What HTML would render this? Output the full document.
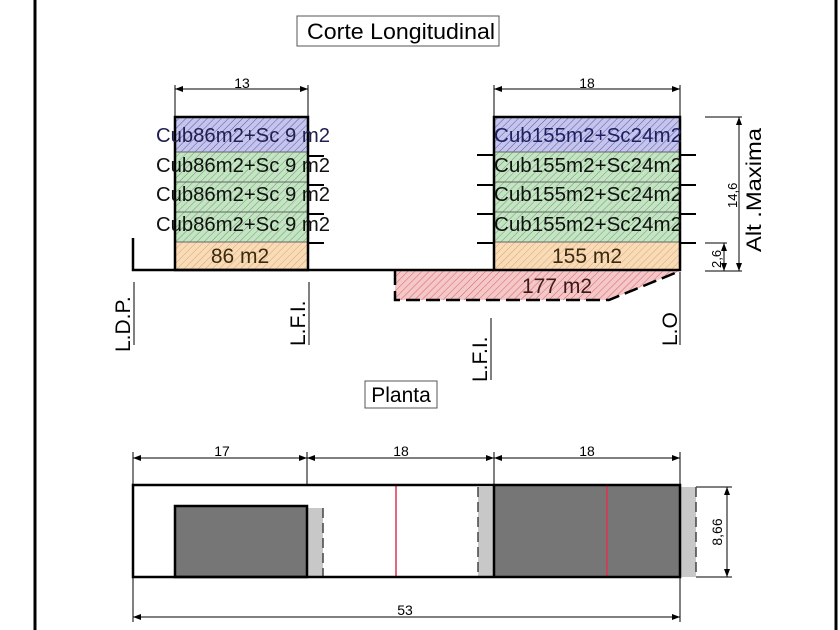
<!DOCTYPE html>
<html><head><meta charset="utf-8"><style>
html,body{margin:0;padding:0;background:#fff}
svg{display:block}
text{font-family:"Liberation Sans",sans-serif}
</style></head><body>
<svg width="840" height="630" viewBox="0 0 840 630" xmlns="http://www.w3.org/2000/svg">
<defs>
<pattern id="hb" width="5" height="5" patternUnits="userSpaceOnUse" patternTransform="rotate(45)"><rect width="5" height="5" fill="#c4c4ec"/><line x1="0" y1="0" x2="0" y2="5" stroke="#5858a8" stroke-width="1"/></pattern>
<pattern id="hg" width="5" height="5" patternUnits="userSpaceOnUse" patternTransform="rotate(45)"><rect width="5" height="5" fill="#c4e4c4"/><line x1="0" y1="0" x2="0" y2="5" stroke="#68a068" stroke-width="1"/></pattern>
<pattern id="ho" width="5" height="5" patternUnits="userSpaceOnUse" patternTransform="rotate(45)"><rect width="5" height="5" fill="#f8dcb8"/><line x1="0" y1="0" x2="0" y2="5" stroke="#e0a070" stroke-width="1"/></pattern>
<pattern id="hr" width="5" height="5" patternUnits="userSpaceOnUse" patternTransform="rotate(45)"><rect width="5" height="5" fill="#f4c8c8"/><line x1="0" y1="0" x2="0" y2="5" stroke="#d86060" stroke-width="1"/></pattern>
<marker id="ar" markerWidth="8" markerHeight="6" refX="8" refY="3" orient="auto-start-reverse" markerUnits="userSpaceOnUse"><path d="M0,0 L8,3 L0,6z" fill="#000"/></marker>
</defs>
<line x1="35" y1="0" x2="35" y2="630" stroke="#000" stroke-width="3"/>
<line x1="836" y1="0" x2="836" y2="630" stroke="#000" stroke-width="3"/>

<rect x="297" y="16" width="202" height="30" fill="#fff" stroke="#555"/>
<text x="307" y="39" font-size="22" textLength="188" lengthAdjust="spacingAndGlyphs">Corte Longitudinal</text>

<g stroke="#000" stroke-width="1" fill="none">
<line x1="175" y1="85" x2="175" y2="117"/><line x1="308" y1="85" x2="308" y2="117"/>
<line x1="175" y1="89" x2="308" y2="89" marker-start="url(#ar)" marker-end="url(#ar)"/>
<line x1="494" y1="85" x2="494" y2="117"/><line x1="680" y1="85" x2="680" y2="117"/>
<line x1="494" y1="89" x2="680" y2="89" marker-start="url(#ar)" marker-end="url(#ar)"/>
</g>
<text x="242" y="88" font-size="14" text-anchor="middle">13</text>
<text x="587" y="88" font-size="14" text-anchor="middle">18</text>

<rect x="175" y="117" width="133" height="35" fill="url(#hb)"/>
<rect x="175" y="152" width="133" height="30" fill="url(#hg)"/>
<rect x="175" y="182" width="133" height="30" fill="url(#hg)"/>
<rect x="175" y="212" width="133" height="30" fill="url(#hg)"/>
<rect x="175" y="242" width="133" height="28" fill="url(#ho)"/>
<g stroke="#666" stroke-width="1"><line x1="175" y1="152" x2="308" y2="152"/><line x1="175" y1="182" x2="308" y2="182"/><line x1="175" y1="212" x2="308" y2="212"/><line x1="175" y1="242" x2="308" y2="242"/></g>
<rect x="175" y="117" width="133" height="153" fill="none" stroke="#000" stroke-width="2.5"/>
<g stroke="#000" stroke-width="2"><line x1="308" y1="156" x2="324" y2="156"/><line x1="308" y1="185" x2="324" y2="185"/><line x1="308" y1="214" x2="324" y2="214"/><line x1="308" y1="243" x2="324" y2="243"/></g>
<g font-size="20" fill="#111">
<text x="156" y="142" textLength="174" lengthAdjust="spacingAndGlyphs" fill="#202050">Cub86m2+Sc 9 m2</text>
<text x="156" y="172" textLength="174" lengthAdjust="spacingAndGlyphs">Cub86m2+Sc 9 m2</text>
<text x="156" y="201" textLength="174" lengthAdjust="spacingAndGlyphs">Cub86m2+Sc 9 m2</text>
<text x="156" y="231" textLength="174" lengthAdjust="spacingAndGlyphs">Cub86m2+Sc 9 m2</text>
<text x="240" y="263" font-size="21" text-anchor="middle" fill="#3a2a10">86 m2</text>
</g>

<path d="M395,271 L395,300 L609,300 L680,271 Z" fill="url(#hr)"/>
<path d="M395,271 L395,300 L609,300 L680,271" fill="none" stroke="#000" stroke-width="2.5" stroke-dasharray="14,6"/>
<text x="557" y="293" font-size="21" text-anchor="middle" fill="#3a1a1a">177 m2</text>

<rect x="494" y="117" width="186" height="35" fill="url(#hb)"/>
<rect x="494" y="152" width="186" height="30" fill="url(#hg)"/>
<rect x="494" y="182" width="186" height="30" fill="url(#hg)"/>
<rect x="494" y="212" width="186" height="30" fill="url(#hg)"/>
<rect x="494" y="242" width="186" height="28" fill="url(#ho)"/>
<g stroke="#666" stroke-width="1"><line x1="494" y1="152" x2="680" y2="152"/><line x1="494" y1="182" x2="680" y2="182"/><line x1="494" y1="212" x2="680" y2="212"/><line x1="494" y1="242" x2="680" y2="242"/></g>
<rect x="494" y="117" width="186" height="153" fill="none" stroke="#000" stroke-width="2.5"/>
<g stroke="#000" stroke-width="2">
<line x1="477" y1="155" x2="494" y2="155"/><line x1="477" y1="185" x2="494" y2="185"/><line x1="477" y1="214" x2="494" y2="214"/><line x1="477" y1="243" x2="494" y2="243"/>
<line x1="680" y1="155" x2="696" y2="155"/><line x1="680" y1="185" x2="696" y2="185"/><line x1="680" y1="214" x2="696" y2="214"/><line x1="680" y1="243" x2="696" y2="243"/>
</g>
<g font-size="20" fill="#111">
<text x="494" y="142" textLength="188" lengthAdjust="spacingAndGlyphs" fill="#202060">Cub155m2+Sc24m2</text>
<text x="494" y="172" textLength="188" lengthAdjust="spacingAndGlyphs">Cub155m2+Sc24m2</text>
<text x="494" y="201" textLength="188" lengthAdjust="spacingAndGlyphs">Cub155m2+Sc24m2</text>
<text x="494" y="231" textLength="188" lengthAdjust="spacingAndGlyphs">Cub155m2+Sc24m2</text>
<text x="587" y="263" font-size="21" text-anchor="middle" fill="#3a2a10">155 m2</text>
</g>

<polyline points="133,238 133,270 494,270" stroke="#000" stroke-width="2.5" fill="none"/>
<g stroke="#000" stroke-width="1">
<line x1="134" y1="282" x2="134" y2="345"/>
<line x1="309" y1="282" x2="309" y2="345"/>
<line x1="491" y1="318" x2="491" y2="380"/>
<line x1="680" y1="272" x2="680" y2="345"/>
</g>
<g font-size="21">
<text transform="translate(130,352) rotate(-90)">L.D.P.</text>
<text transform="translate(305,346) rotate(-90)">L.F.I.</text>
<text transform="translate(487,382) rotate(-90)">L.F.I.</text>
<text transform="translate(677,346) rotate(-90)">L.O</text>
</g>

<g stroke="#000" stroke-width="1" fill="none">
<line x1="705" y1="117" x2="742" y2="117"/>
<line x1="705" y1="271" x2="742" y2="271"/>
<line x1="705" y1="243" x2="727" y2="243"/>
<line x1="739" y1="117" x2="739" y2="271" marker-start="url(#ar)" marker-end="url(#ar)"/>
<line x1="724" y1="243" x2="724" y2="271" marker-start="url(#ar)" marker-end="url(#ar)"/>
</g>
<text transform="translate(737,208) rotate(-90)" font-size="13">14,6</text>
<text transform="translate(721,268) rotate(-90)" font-size="13">2,6</text>
<text transform="translate(761,252) rotate(-90)" font-size="21" textLength="124" lengthAdjust="spacingAndGlyphs">Alt .Maxima</text>

<rect x="365" y="381" width="72" height="27" fill="#fff" stroke="#555"/>
<text x="401" y="402" font-size="21" text-anchor="middle">Planta</text>

<g stroke="#000" stroke-width="1" fill="none">
<line x1="133" y1="452" x2="133" y2="485"/><line x1="307" y1="452" x2="307" y2="485"/><line x1="494" y1="452" x2="494" y2="485"/><line x1="680" y1="452" x2="680" y2="485"/>
<line x1="133" y1="458" x2="307" y2="458" marker-start="url(#ar)" marker-end="url(#ar)"/>
<line x1="307" y1="458" x2="494" y2="458" marker-start="url(#ar)" marker-end="url(#ar)"/>
<line x1="494" y1="458" x2="680" y2="458" marker-start="url(#ar)" marker-end="url(#ar)"/>
<line x1="133" y1="577" x2="133" y2="622"/><line x1="680" y1="577" x2="680" y2="622"/>
<line x1="133" y1="617" x2="680" y2="617" marker-start="url(#ar)" marker-end="url(#ar)"/>
<line x1="696" y1="487" x2="732" y2="487"/><line x1="696" y1="577" x2="732" y2="577"/>
<line x1="727" y1="487" x2="727" y2="577" marker-start="url(#ar)" marker-end="url(#ar)"/>
</g>
<g font-size="14" text-anchor="middle">
<text x="222" y="456">17</text><text x="401" y="456">18</text><text x="587" y="456">18</text><text x="405" y="615">53</text>
</g>
<text transform="translate(722,532) rotate(-90)" font-size="14" text-anchor="middle">8,66</text>

<rect x="307" y="508" width="16" height="69" fill="#c8c8c8"/>
<line x1="323" y1="508" x2="323" y2="577" stroke="#444" stroke-width="1.5" stroke-dasharray="10,5"/>
<rect x="478" y="487" width="16" height="90" fill="#c8c8c8"/>
<line x1="478" y1="487" x2="478" y2="577" stroke="#444" stroke-width="1.5" stroke-dasharray="10,5"/>
<rect x="680" y="487" width="16" height="90" fill="#c8c8c8"/>
<line x1="696" y1="487" x2="696" y2="577" stroke="#444" stroke-width="1.5" stroke-dasharray="10,5"/>
<rect x="175" y="506" width="132" height="71" fill="#767676" stroke="#000" stroke-width="2.5"/>
<rect x="494" y="485" width="186" height="92" fill="#767676"/>
<line x1="396" y1="485" x2="396" y2="577" stroke="#e03050" stroke-width="1.5"/>
<line x1="607" y1="485" x2="607" y2="577" stroke="#e03050" stroke-width="1.5"/>
<rect x="133" y="485" width="547" height="92" fill="none" stroke="#000" stroke-width="2.5"/>
<line x1="494" y1="485" x2="494" y2="577" stroke="#000" stroke-width="2.5"/>
</svg>
</body></html>
